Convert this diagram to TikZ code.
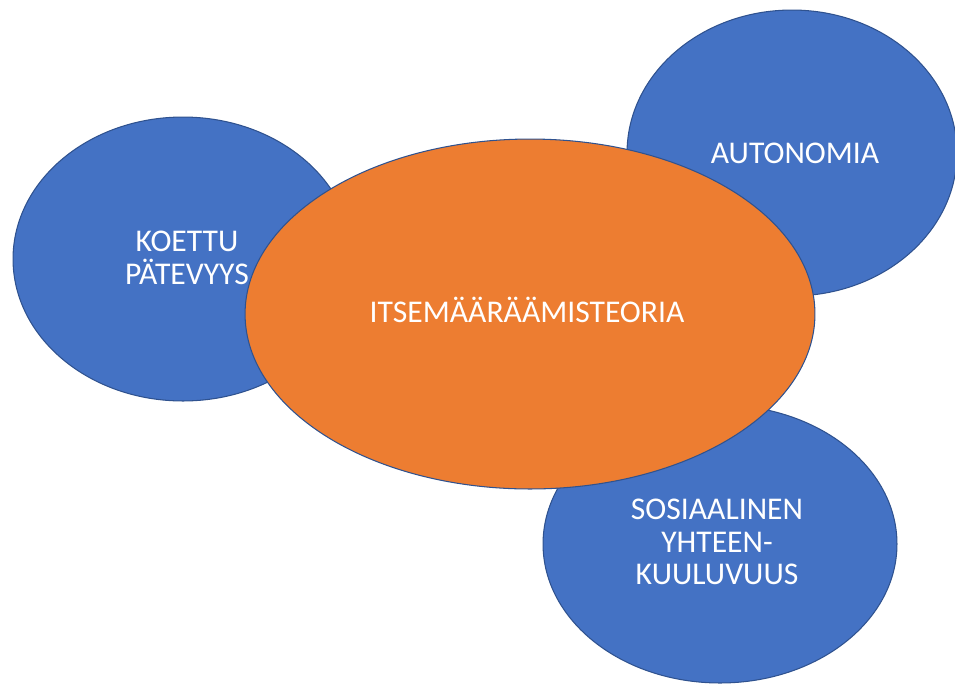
\documentclass[tikz,border=0pt]{standalone}
\usepackage{fontspec}
\setmainfont{Carlito}
\usetikzlibrary{shapes.geometric}
\definecolor{needblue}{HTML}{4472C4}
\definecolor{theoryorange}{HTML}{ED7D31}
\definecolor{edgeblue}{HTML}{2F528F}
\begin{document}
\begin{tikzpicture}
[x=0.02cm,y=-0.02cm,
 needdecorate/.style={shape=ellipse,draw=edgeblue,fill=needblue,line width=0.6pt,inner sep=0pt},%
 theorydecorate/.style={shape=ellipse,draw=edgeblue,fill=theoryorange,line width=0.6pt,inner sep=0pt},%
 labeldecorate/.style={text=white,align=center,font=\fontsize{18}{18.5}\selectfont}]
\clip (0,0) rectangle (955,684);
%% needs
\foreach \nodename/\x/\y/\w/\h in {Koettu/183/259/6.8/5.68, Autonomia/792/153/6.6/5.72, Yhteys/720/544/7.08/5.56} {
  \node (\nodename) at (\x,\y) [needdecorate,minimum width=\w cm,minimum height=\h cm] {};
}
%% theory
\node (Teoria) at (530,314) [theorydecorate,minimum width=11.4cm,minimum height=7cm] {};
%% labels
\foreach \nodename/\x/\y/\txt in {Koettu/187/258/{KOETTU\\PÄTEVYYS}, Autonomia/795/153/{AUTONOMIA}, Yhteys/717/542/{SOSIAALINEN\\YHTEEN-\\KUULUVUUS}, Teoria/527/310/{ITSEMÄÄRÄÄMISTEORIA}} {
  \node (\nodename-label) at (\x,\y) [labeldecorate] {\txt};
}
\end{tikzpicture}
\end{document}
